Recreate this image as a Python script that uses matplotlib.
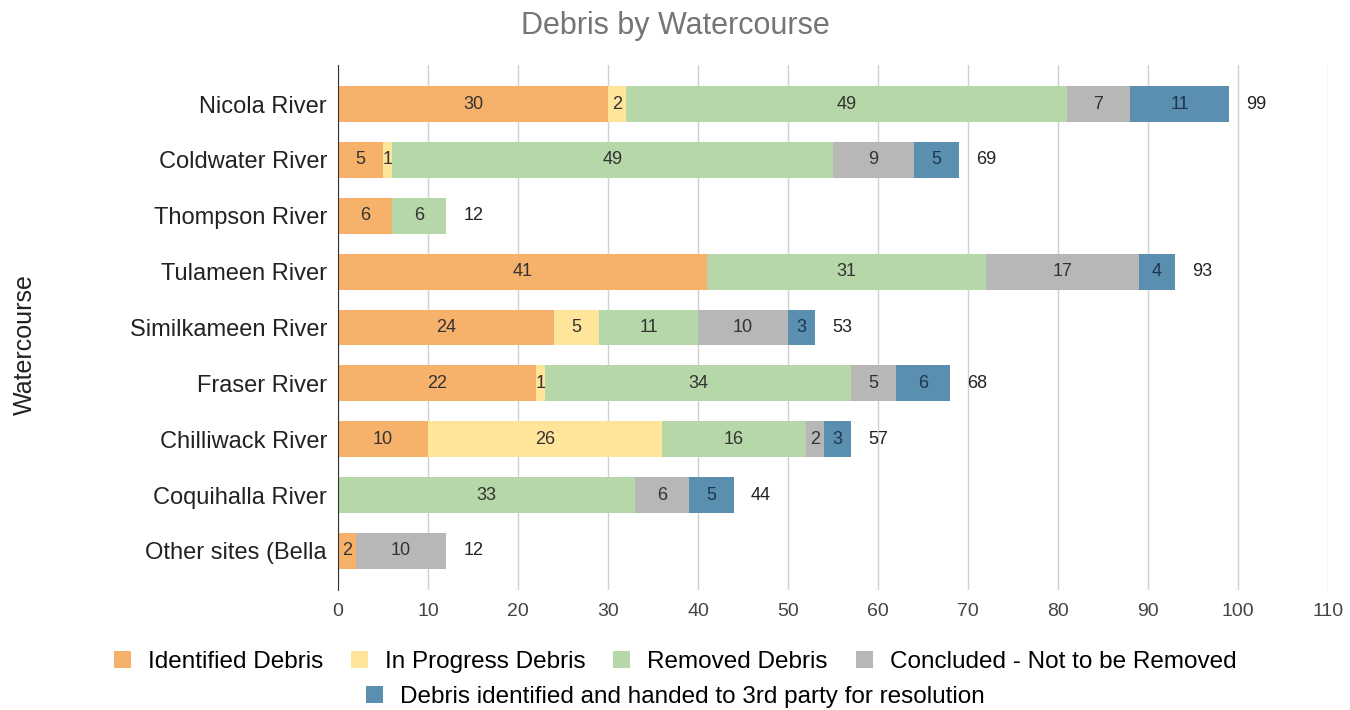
import numpy as np
import matplotlib.pyplot as plt

plt.rcParams['font.family'] = ['Liberation Sans', 'DejaVu Sans']

# data
rivers = ['Nicola River', 'Coldwater River', 'Thompson River', 'Tulameen River',
          'Similkameen River', 'Fraser River', 'Chilliwack River', 'Coquihalla River',
          'Other sites (Bella']
identified = [30, 5, 6, 41, 24, 22, 10, 0, 2]
in_progress = [2, 1, 0, 0, 5, 1, 26, 0, 0]
removed = [49, 49, 6, 31, 11, 34, 16, 33, 0]
concluded = [7, 9, 0, 17, 10, 5, 2, 6, 10]
third_party = [11, 5, 0, 4, 3, 6, 3, 5, 0]

series = [
    ('Identified Debris', identified, '#F6B26B', '#333333'),
    ('In Progress Debris', in_progress, '#FFE599', '#333333'),
    ('Removed Debris', removed, '#B6D7A8', '#333333'),
    ('Concluded - Not to be Removed', concluded, '#B7B7B7', '#333333'),
    ('Debris identified and handed to 3rd party for resolution', third_party, '#5B8FB0', '#1C3550'),
]

fig = plt.figure(figsize=(13.5, 7.1), dpi=100)
ax = fig.add_axes([0.2504, 0.169, 0.7333, 0.7394])

y = np.arange(len(rivers))
left = np.zeros(len(rivers))
handles = []
for name, vals, col, tcol in series:
    vals = np.array(vals, dtype=float)
    bars = ax.barh(y, vals, left=left, height=0.64, color=col, label=name, zorder=3)
    handles.append(bars)
    for i, v in enumerate(vals):
        if v > 0:
            ax.text(left[i] + v / 2, y[i], f'{int(v)}', ha='center', va='center',
                    fontsize=13, color=tcol, zorder=4)
    left += vals

for i, tot in enumerate(left):
    ax.text(tot + 1.9, y[i], f'{int(tot)}', ha='left', va='center', fontsize=13, color='#222222')

ax.set_xlim(0, 110)
ax.set_xticks(np.arange(0, 111, 10))
ax.set_ylim(len(rivers) - 0.3, -0.7)
ax.set_yticks(y)
ax.set_yticklabels(rivers, fontsize=17, color='#222222')
ax.tick_params(axis='x', labelsize=14, colors='#444444', length=0, pad=9)
ax.tick_params(axis='y', length=0, pad=8)
ax.grid(axis='x', color='#d0d0d0', linewidth=1, zorder=0)
for s in ['top', 'right', 'bottom']:
    ax.spines[s].set_visible(False)
ax.spines['left'].set_color('#333333')
ax.spines['left'].set_zorder(5)

fig.text(25 / 1350, 1 - 345 / 710, 'Watercourse', rotation=90, ha='center', va='center',
         fontsize=18, color='#222222')

fig.suptitle('Debris by Watercourse', fontsize=22, color='#757575', y=0.985)

fig.legend(handles[:4], [s[0] for s in series[:4]], loc='center', ncol=4,
           bbox_to_anchor=(0.5, 1 - 662 / 710), frameon=False, fontsize=17.5,
           handlelength=0.7, handleheight=0.7, handletextpad=0.7, columnspacing=1.15)
fig.legend(handles[4:], [series[4][0]], loc='center', bbox_to_anchor=(0.5, 1 - 697 / 710),
           frameon=False, fontsize=17.5, handlelength=0.7, handleheight=0.7, handletextpad=0.7)

fig.savefig('out.png', dpi=100)
